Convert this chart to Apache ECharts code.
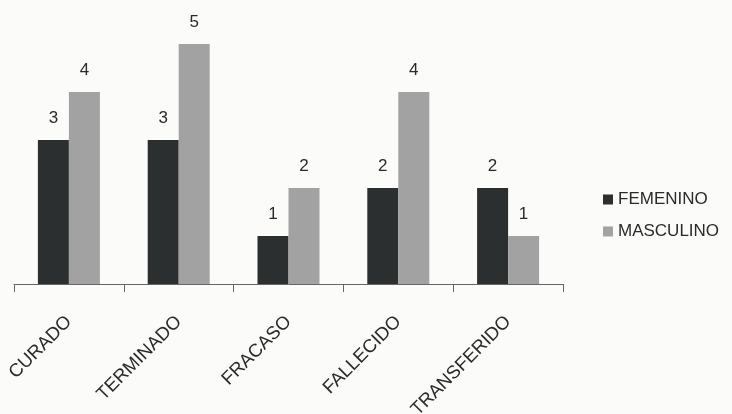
<!DOCTYPE html>
<html>
<head>
<meta charset="utf-8">
<script src="https://cdn.jsdelivr.net/npm/echarts@6/dist/echarts.min.js"></script>
<style>
  html, body { margin: 0; padding: 0; background: #fbfbfa; }
  #chart { width: 732px; height: 414px; }
</style>
</head>
<body>
<div id="chart"></div>
<script>
// Resultados del tratamiento por sexo
const categories = ['CURADO', 'TERMINADO', 'FRACASO', 'FALLECIDO', 'TRANSFERIDO'];
const femenino = [3, 3, 1, 2, 2];
const masculino = [4, 5, 2, 4, 1];
const seriesNames = ['FEMENINO', 'MASCULINO'];

const font = 'Liberation Sans, Arial, sans-serif';
const chart = echarts.init(document.getElementById('chart'));

const labelStyle = {
  show: true,
  position: 'top',
  distance: 13,
  color: '#2a2a2a',
  fontSize: 17,
  fontFamily: font
};

chart.setOption({
  backgroundColor: '#fbfbfa',
  animation: false,
  grid: {
    left: 14, right: 169, top: 44, bottom: 130,
    containLabel: false,
    outerBoundsMode: 'none'
  },
  legend: {
    orient: 'vertical',
    left: 598,
    top: 186,
    itemWidth: 10,
    itemHeight: 10,
    itemGap: 15,
    icon: 'rect',
    textStyle: { fontSize: 17, color: '#2a2a2a', fontFamily: font, padding: [0, 0, 0, 0] },
    data: seriesNames
  },
  xAxis: {
    type: 'category',
    data: categories,
    axisLine: { lineStyle: { color: '#666', width: 1 } },
    axisTick: { show: true, length: 8, lineStyle: { color: '#666' } },
    axisLabel: {
      rotate: 45,
      margin: 35,
      fontSize: 18.5,
      color: '#2a2a2a',
      fontFamily: font
    }
  },
  yAxis: {
    type: 'value',
    min: 0,
    max: 5,
    interval: 1,
    show: false,
    splitLine: { show: false }
  },
  series: [
    {
      name: seriesNames[0],
      type: 'bar',
      data: femenino,
      barWidth: 31,
      barGap: '0%',
      itemStyle: { color: '#2b2f2f' },
      label: labelStyle
    },
    {
      name: seriesNames[1],
      type: 'bar',
      data: masculino,
      barWidth: 31,
      barGap: '0%',
      itemStyle: { color: '#a2a2a2' },
      label: labelStyle
    }
  ]
});
</script>
</body>
</html>
